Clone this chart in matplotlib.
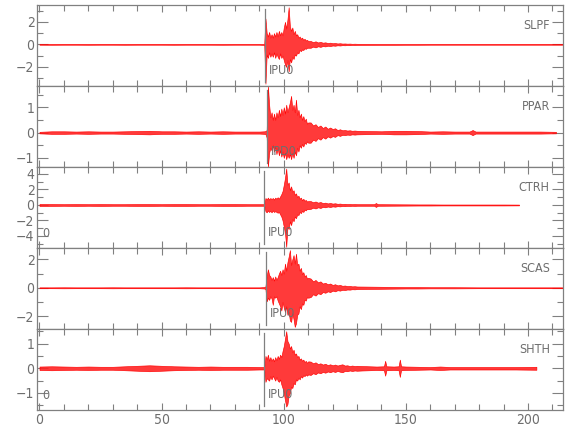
import numpy as np
import matplotlib
matplotlib.use("Agg")
import matplotlib.pyplot as plt
from matplotlib.ticker import MultipleLocator
from matplotlib.transforms import blended_transform_factory
from matplotlib import font_manager

# ---------------- data ----------------
stations = ["SLPF", "PPAR", "CTRH", "SCAS", "SHTH"]
pick_labels = ["IPU0", "IPD0", "IPU0", "IPU0", "IPU0"]
pick_times = [92.5, 93.2, 92.1, 92.8, 92.1]
ylims = [(-3.7, 3.5), (-1.36, 1.84), (-5.55, 4.9), (-2.9, 2.8), (-1.69, 1.59)]
ymajor = [2, 1, 2, 2, 1]
yminor = [1, 0.5, 1, 1, 0.5]
start_marks = [False, False, True, False, True]
x_ticks = [0, 50, 100, 150, 200]

# sample times of the envelope values
t_pre = np.arange(0, 91, 5)          # 0 .. 90
t_ev = np.arange(92, 110.01, 0.5)    # 92 .. 110
t_coda = np.arange(111, 131, 1)      # 111 .. 130

# --- SLPF ---
slpf_pre = [0.03, 0.035, 0.03, 0.03, 0.035, 0.03, 0.03, 0.035, 0.03, 0.03,
            0.03, 0.035, 0.03, 0.03, 0.03, 0.035, 0.03, 0.03, 0.03]
slpf_hi = [0.05, 2.3, 1.0, 0.7, 1.1, 0.6, 0.9, 0.6, 1.0, 0.7,
           1.1, 0.7, 1.2, 0.8, 1.1, 0.8, 1.5, 2.0, 1.4, 2.2,
           3.3, 1.6, 1.2, 1.5, 0.9, 1.2, 0.8, 0.9, 0.6, 0.7,
           0.5, 0.6, 0.4, 0.5, 0.35, 0.4, 0.3]
slpf_lo = [-0.05, -3.5, -0.9, -1.2, -0.7, -1.1, -0.8, -1.1, -0.7, -1.2,
           -0.8, -1.1, -1.3, -0.8, -1.2, -1.0, -1.4, -1.8, -2.0, -1.4,
           -2.4, -1.3, -1.6, -1.1, -1.3, -0.9, -1.0, -0.7, -0.8, -0.5,
           -0.6, -0.45, -0.5, -0.35, -0.4, -0.3, -0.3]
slpf_coda = [0.3, 0.2, 0.27, 0.17, 0.22, 0.15, 0.18, 0.12, 0.15, 0.1,
             0.12, 0.08, 0.1, 0.07, 0.08, 0.06, 0.07, 0.05, 0.06, 0.05]
slpf_tail_t = [135, 140, 145, 150, 155, 160, 165, 170, 175, 180, 185, 190,
               195, 200, 205, 210, 214]
slpf_tail = [0.045, 0.04, 0.04, 0.035, 0.035, 0.03, 0.03, 0.03, 0.03, 0.03,
             0.03, 0.03, 0.03, 0.03, 0.03, 0.03, 0.03]

# --- PPAR ---
ppar_pre = [0.03, 0.05, 0.05, 0.04, 0.05, 0.04, 0.04, 0.05, 0.06, 0.07,
            0.05, 0.05, 0.04, 0.05, 0.04, 0.05, 0.04, 0.04, 0.04]
ppar_hi = [0.05, 0.06, 0.1, 1.84, 1.1, 0.6, 0.8, 0.5, 0.75, 0.5,
           0.8, 0.6, 0.9, 0.65, 0.95, 0.7, 1.0, 0.75, 1.1, 0.8,
           1.0, 1.2, 1.45, 0.9, 1.1, 0.8, 1.3, 0.7, 0.9, 0.6,
           0.75, 0.5, 0.65, 0.45, 0.55, 0.35, 0.4]
ppar_lo = [-0.05, -0.06, -0.2, -1.36, -0.8, -0.6, -0.7, -0.5, -0.75, -0.55,
           -0.85, -0.6, -0.9, -0.7, -0.95, -0.75, -1.0, -0.8, -1.05, -0.85,
           -1.0, -0.85, -1.05, -0.8, -1.0, -0.75, -0.9, -0.6, -0.75, -0.5,
           -0.6, -0.45, -0.55, -0.4, -0.45, -0.35, -0.4]
ppar_coda = [0.4, 0.28, 0.33, 0.22, 0.28, 0.18, 0.24, 0.15, 0.2, 0.14,
             0.17, 0.1, 0.13, 0.09, 0.1, 0.08, 0.09, 0.07, 0.08, 0.07]
ppar_tail_t = [135, 140, 145, 150, 155, 160, 165, 170, 176, 177.3, 178.5,
               185, 190, 195, 200, 205, 211.4]
ppar_tail = [0.06, 0.05, 0.07, 0.07, 0.06, 0.04, 0.05, 0.04, 0.04, 0.1,
             0.04, 0.04, 0.04, 0.04, 0.04, 0.04, 0.03]

# --- CTRH ---
ctrh_pre = [0.12, 0.12, 0.1, 0.12, 0.1, 0.12, 0.1, 0.1, 0.12, 0.12,
            0.1, 0.12, 0.12, 0.1, 0.1, 0.12, 0.12, 0.1, 0.1]
ctrh_hi = [0.1, 0.9, 0.7, 0.95, 0.7, 0.9, 0.75, 0.9, 0.7, 0.95,
           0.8, 1.0, 0.8, 1.1, 1.4, 1.8, 2.6, 3.5, 4.7, 2.6,
           2.9, 1.9, 2.4, 1.7, 1.9, 1.3, 1.5, 1.0, 1.2, 0.8,
           0.95, 0.6, 0.8, 0.55, 0.65, 0.45, 0.5]
ctrh_lo = [-0.1, -0.8, -0.95, -0.7, -0.9, -0.75, -0.95, -0.7, -0.9, -0.8,
           -0.9, -1.0, -0.9, -1.2, -1.5, -2.0, -2.8, -3.6, -5.4, -2.8,
           -3.1, -2.1, -2.6, -1.8, -2.1, -1.5, -1.7, -1.2, -1.3, -0.9,
           -1.05, -0.75, -0.9, -0.6, -0.7, -0.5, -0.55]
ctrh_coda = [0.5, 0.35, 0.45, 0.3, 0.38, 0.25, 0.3, 0.2, 0.26, 0.18,
             0.22, 0.15, 0.18, 0.13, 0.15, 0.12, 0.13, 0.1, 0.12, 0.1]
ctrh_tail_t = [135, 137, 137.7, 138.5, 140, 145, 150, 155, 160, 165, 170,
               175, 180, 185, 190, 196.3]
ctrh_tail = [0.1, 0.1, 0.25, 0.1, 0.1, 0.09, 0.08, 0.07, 0.07, 0.06, 0.06,
             0.06, 0.06, 0.06, 0.06, 0.05]

# --- SCAS ---
scas_pre = [0.03, 0.03, 0.035, 0.03, 0.03, 0.03, 0.035, 0.03, 0.03, 0.03,
            0.03, 0.03, 0.035, 0.03, 0.03, 0.03, 0.03, 0.03, 0.03]
scas_hi = [0.05, 0.1, 0.85, 1.3, 0.9, 0.8, 0.55, 0.75, 0.5, 0.8,
           0.55, 0.75, 1.0, 1.2, 0.9, 1.3, 1.0, 1.7, 1.2, 1.8,
           2.2, 2.65, 1.6, 2.0, 2.3, 1.7, 2.4, 1.6, 1.7, 1.2,
           1.4, 0.95, 1.1, 0.8, 0.9, 0.65, 0.7]
scas_lo = [-0.05, -0.1, -0.95, -0.7, -0.85, -0.6, -0.75, -1.2, -0.6, -0.7,
           -0.6, -0.9, -1.1, -1.3, -1.6, -1.0, -1.4, -1.7, -1.3, -1.9,
           -1.7, -2.3, -2.4, -1.8, -2.2, -2.75, -2.5, -1.9, -1.8, -1.3,
           -1.5, -1.1, -1.2, -0.85, -0.9, -0.65, -0.7]
scas_coda = [0.65, 0.45, 0.55, 0.38, 0.45, 0.3, 0.35, 0.25, 0.3, 0.2,
             0.25, 0.17, 0.2, 0.14, 0.16, 0.12, 0.13, 0.1, 0.11, 0.09]
scas_tail_t = [135, 140, 145, 150, 155, 160, 165, 170, 175, 180, 185, 190,
               195, 200, 205, 210, 214]
scas_tail = [0.08, 0.07, 0.06, 0.05, 0.05, 0.04, 0.04, 0.04, 0.035, 0.03,
             0.03, 0.03, 0.03, 0.03, 0.03, 0.03, 0.03]

# --- SHTH ---
shth_pre = [0.07, 0.08, 0.07, 0.06, 0.07, 0.06, 0.06, 0.08, 0.1, 0.12,
            0.1, 0.08, 0.07, 0.06, 0.07, 0.06, 0.06, 0.06, 0.05]
shth_hi = [0.05, 0.5, 0.35, 0.55, 0.3, 0.45, 0.3, 0.4, 0.28, 0.45,
           0.32, 0.5, 0.38, 0.55, 0.45, 0.7, 0.9, 1.2, 1.5, 1.1,
           1.0, 0.8, 0.9, 0.65, 0.75, 0.55, 0.6, 0.45, 0.5, 0.35,
           0.4, 0.3, 0.35, 0.25, 0.3, 0.22, 0.28]
shth_lo = [-0.05, -0.55, -0.4, -0.45, -0.5, -0.32, -0.45, -0.3, -0.4, -0.5,
           -0.35, -0.5, -0.55, -0.45, -0.65, -0.8, -1.0, -1.3, -1.55, -1.45,
           -1.1, -1.0, -0.75, -0.8, -0.6, -0.65, -0.45, -0.5, -0.38, -0.45,
           -0.32, -0.38, -0.28, -0.32, -0.25, -0.3, -0.25]
shth_coda = [0.27, 0.2, 0.24, 0.17, 0.2, 0.15, 0.18, 0.13, 0.16, 0.12,
             0.15, 0.11, 0.14, 0.16, 0.11, 0.12, 0.09, 0.11, 0.09, 0.1]
shth_tail_t = [132, 135, 138, 141, 141.5, 142, 145, 147, 147.5, 148, 150,
               155, 160, 164, 168, 175, 185, 195, 203.4]
shth_tail = [0.09, 0.08, 0.07, 0.08, 0.3, 0.08, 0.07, 0.08, 0.35, 0.08,
             0.07, 0.06, 0.05, 0.07, 0.05, 0.05, 0.05, 0.05, 0.06]

traces = [
    (slpf_pre, slpf_hi, slpf_lo, slpf_coda, slpf_tail_t, slpf_tail),
    (ppar_pre, ppar_hi, ppar_lo, ppar_coda, ppar_tail_t, ppar_tail),
    (ctrh_pre, ctrh_hi, ctrh_lo, ctrh_coda, ctrh_tail_t, ctrh_tail),
    (scas_pre, scas_hi, scas_lo, scas_coda, scas_tail_t, scas_tail),
    (shth_pre, shth_hi, shth_lo, shth_coda, shth_tail_t, shth_tail),
]

# ---------------- figure ----------------
names = {f.name for f in font_manager.fontManager.ttflist}
if "Liberation Sans Narrow" in names:
    FONT = ["Liberation Sans Narrow", "DejaVu Sans"]
    STRETCH = "normal"
else:
    FONT = ["DejaVu Sans"]
    STRETCH = "condensed"
plt.rcParams["font.family"] = FONT
plt.rcParams["font.stretch"] = STRETCH
GREY = "#808080"
TXT = "#6e6e6e"

W, H = 580, 440
fig = plt.figure(figsize=(W / 100, H / 100), dpi=100)
left_px, right_px = 37.3, 563.0
top_px, panel_px = 5.0, 81.0

for i, (pre, hi, lo, coda, tail_t, tail) in enumerate(traces):
    y_top = top_px + i * panel_px
    ax = fig.add_axes([left_px / W, 1 - (y_top + panel_px) / H,
                       (right_px - left_px) / W, panel_px / H])
    t = np.concatenate([t_pre, t_ev, t_coda, np.asarray(tail_t, float)])
    up = np.concatenate([pre, hi, coda, tail])
    dn = np.concatenate([-np.asarray(pre), lo, -np.asarray(coda),
                         -np.asarray(tail)])
    ax.fill_between(t, dn, up, facecolor=(1.0, 0.12, 0.12, 0.88),
                    edgecolor="#ff0000", lw=0.45, clip_on=False, zorder=2)

    ax.set_xlim(-0.9, 214.3)
    ax.set_ylim(*ylims[i])

    # pick line + label
    ax.axvline(pick_times[i], ymin=0.05, ymax=0.95, color=GREY, lw=0.9,
               zorder=3)
    tr = blended_transform_factory(ax.transData, ax.transAxes)
    ax.text(pick_times[i] + 1.4, 0.19, pick_labels[i], transform=tr,
            ha="left", va="center", fontsize=9, color=TXT, zorder=4)
    if start_marks[i]:
        ax.text(1.2, 0.18, "0", transform=tr, ha="left", va="center",
                fontsize=9, color=TXT, zorder=4)
    # station name
    ax.text(0.975, 0.753, stations[i], transform=ax.transAxes, ha="right",
            va="center", fontsize=9, color=TXT)

    ax.xaxis.set_major_locator(MultipleLocator(50))
    ax.xaxis.set_minor_locator(MultipleLocator(10))
    ax.yaxis.set_major_locator(MultipleLocator(ymajor[i]))
    ax.yaxis.set_minor_locator(MultipleLocator(yminor[i]))
    ax.tick_params(which="both", direction="in", top=True, right=True,
                   color=GREY, width=0.8, labelcolor=TXT, labelsize=10)
    ax.tick_params(axis="y", which="major", length=8, pad=2)
    ax.tick_params(axis="y", which="minor", length=4)
    ax.tick_params(axis="x", which="major", length=5, pad=2)
    ax.tick_params(axis="x", which="minor", length=4)
    for s in ax.spines.values():
        s.set_color(GREY)
        s.set_linewidth(0.9)
    if i < len(traces) - 1:
        ax.set_xticklabels([])
    else:
        ax.set_xticks(x_ticks)

fig.savefig("out.png", dpi=100)
